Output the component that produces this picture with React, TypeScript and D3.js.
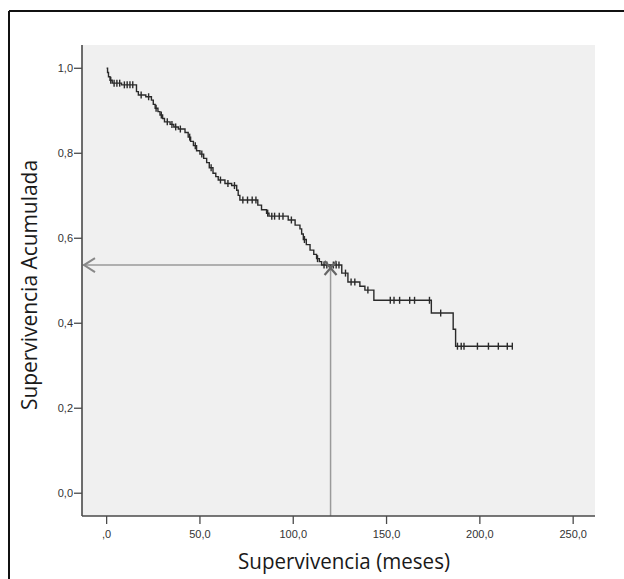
import React from 'react'
import * as d3 from 'd3'

// Kaplan-Meier estimate
const eventTimes = [0.5, 1, 1.8, 3, 8, 16, 17, 21, 24, 25, 26, 27.5, 28.6, 30, 31, 34, 36, 38.4, 42, 43.7, 45, 46.5, 48.2, 50, 52, 53.6, 55, 57, 58.5, 59.8, 63.4, 67, 69.7, 70.5, 71.4, 81, 83, 85.7, 87, 97.3, 101, 103.6, 104.5, 105.4, 107, 109, 111, 112.5, 114, 115.2, 126, 129.3, 135.7, 138.4, 143.2, 174, 185.7, 187]
const survival = [0.99, 0.98, 0.972, 0.965, 0.961, 0.945, 0.937, 0.933, 0.925, 0.915, 0.906, 0.898, 0.89, 0.882, 0.874, 0.868, 0.862, 0.857, 0.849, 0.838, 0.828, 0.818, 0.806, 0.798, 0.788, 0.778, 0.766, 0.753, 0.745, 0.737, 0.729, 0.724, 0.713, 0.701, 0.69, 0.678, 0.667, 0.659, 0.652, 0.643, 0.631, 0.622, 0.61, 0.597, 0.585, 0.572, 0.562, 0.552, 0.545, 0.537, 0.518, 0.497, 0.487, 0.478, 0.454, 0.424, 0.386, 0.346]
const censorTimes = [2.2, 4, 5.5, 7, 9.5, 11, 12.5, 14, 18.5, 22.5, 26.5, 29.3, 32.5, 35, 37, 39.5, 44.5, 47.5, 51, 56, 61, 65, 68.5, 73, 75.5, 78, 80, 86.3, 88.5, 90, 92.5, 94.5, 99, 106, 113, 116.5, 118, 121.5, 123, 124.5, 128, 131, 133, 140, 152, 154, 157, 162.4, 165, 173, 179, 188, 190, 191.5, 198.7, 204.6, 209.9, 214.7, 217.4]

const xTicks = [0, 50, 100, 150, 200, 250]
const xTickLabels = [',0', '50,0', '100,0', '150,0', '200,0', '250,0']
const yTicks = [0, 0.2, 0.4, 0.6, 0.8, 1.0]
const yTickLabels = ['0,0', '0,2', '0,4', '0,6', '0,8', '1,0']

// 10-year reference
const refTime = 120
const refSurv = 0.537

const W = 624
const H = 579

export default function App() {
  const x = d3.scaleLinear().domain([-13.2, 261.7]).range([82, 595])
  const y = d3.scaleLinear().domain([-0.0536, 1.0548]).range([516, 45])

  const survAt = (t: number) => {
    const i = d3.bisectRight(eventTimes, t)
    return i === 0 ? 1 : survival[i - 1]
  }

  const pts: [number, number][] = [[0, 1]]
  eventTimes.forEach((t, i) => pts.push([t, survival[i]]))
  pts.push([d3.max(censorTimes) as number, survival[survival.length - 1]])

  const line = d3.line<[number, number]>()
    .x(d => x(d[0]))
    .y(d => y(d[1]))
    .curve(d3.curveStepAfter)

  const [x0, x1] = x.range()
  const [yb, yt] = y.range()
  const rx = x(refTime)
  const ry = y(refSurv)
  const axisCol = '#4a4a4a'
  const refCol = '#9a9a9a'

  return (
    <svg width={W} height={H} style={{ position: 'absolute', left: 0, top: 0, background: '#fff' }}>
      {/* outer frame */}
      <line x1={9} y1={11} x2={W} y2={11} stroke="#111" strokeWidth={2} />
      <line x1={9} y1={11} x2={9} y2={H} stroke="#111" strokeWidth={2} />

      <rect x={x0} y={yt} width={x1 - x0} height={yb - yt} fill="#f0f0f0" />

      {/* reference lines */}
      <line x1={x0 + 1} y1={ry} x2={rx} y2={ry} stroke={refCol} strokeWidth={1.5} />
      <line x1={rx} y1={ry} x2={rx} y2={yb} stroke={refCol} strokeWidth={1.5} />
      <polyline points={`${x0 + 13},${ry - 7} ${x0 + 2},${ry} ${x0 + 13},${ry + 7}`} fill="none" stroke="#888" strokeWidth={2} />

      {/* survival curve */}
      <path d={line(pts) || ''} fill="none" stroke="#2a2a2a" strokeWidth={1.4} />
      {censorTimes.map((t, i) => (
        <line key={i} x1={x(t)} x2={x(t)} y1={y(survAt(t)) - 3.5} y2={y(survAt(t)) + 3.5} stroke="#2a2a2a" strokeWidth={1.4} />
      ))}

      {/* X marker at intersection */}
      <g stroke="#666" strokeWidth={2.2}>
        <line x1={rx - 6} y1={ry - 4} x2={rx + 6} y2={ry + 10} />
        <line x1={rx + 6} y1={ry - 4} x2={rx - 6} y2={ry + 10} />
      </g>

      {/* axes */}
      <line x1={x0} y1={yt} x2={x0} y2={yb} stroke={axisCol} strokeWidth={1.6} />
      <line x1={x0} y1={yb} x2={x1} y2={yb} stroke={axisCol} strokeWidth={1.6} />
      <g fontFamily="Liberation Sans, Arial, sans-serif" fontSize={11} fill="#333">
        {yTicks.map((v, i) => (
          <g key={i}>
            <line x1={x0 - 8} x2={x0} y1={y(v)} y2={y(v)} stroke={axisCol} strokeWidth={1.3} />
            <text x={x0 - 9} y={y(v) + 4} textAnchor="end">{yTickLabels[i]}</text>
          </g>
        ))}
        {xTicks.map((v, i) => (
          <g key={i}>
            <line x1={x(v)} x2={x(v)} y1={yb} y2={yb + 8} stroke={axisCol} strokeWidth={1.3} />
            <text x={x(v)} y={yb + 22} textAnchor="middle">{xTickLabels[i]}</text>
          </g>
        ))}
      </g>

      <g fontFamily="Open Sans, sans-serif" fontSize={21} fill="#1a1a1a">
        <text x={344} y={569} textAnchor="middle" textLength={212} lengthAdjust="spacingAndGlyphs">Supervivencia (meses)</text>
        <text transform={`translate(37,285) rotate(-90)`} textAnchor="middle" textLength={250} lengthAdjust="spacingAndGlyphs">Supervivencia Acumulada</text>
      </g>
    </svg>
  )
}
